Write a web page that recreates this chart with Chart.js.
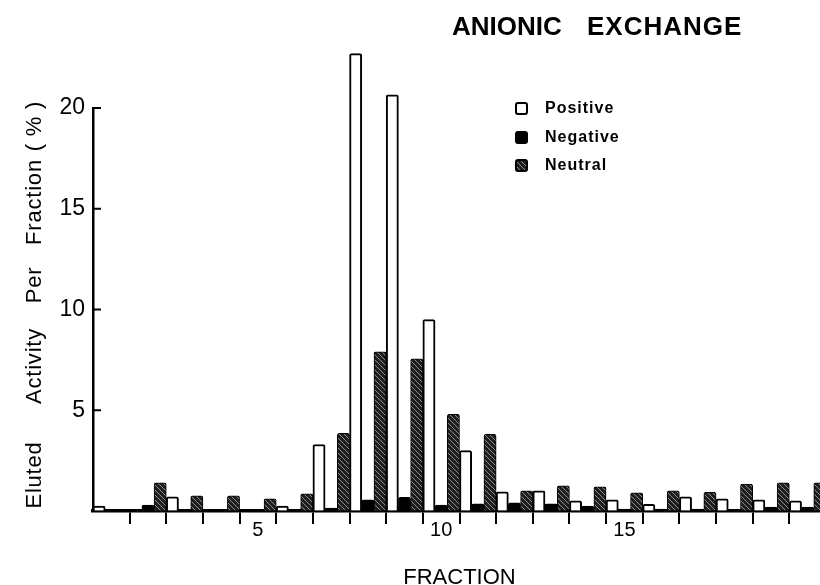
<!DOCTYPE html>
<html lang="en">
<head>
  <meta charset="UTF-8" />
  <title>Anionic Exchange</title>
  <script src="https://cdn.jsdelivr.net/npm/chart.js"></script>
<style>
  html, body {
    margin: 0;
    padding: 0;
    background: #fff;
    overflow: hidden;
  }
  #wrap {
    width: 826px;
    height: 585px;
  }
</style>
</head>
<body>
  <div id="wrap">
    <canvas id="exchangeChart" width="826" height="585"></canvas>
  </div>

<script>
  // Values (% of eluted activity per fraction)
  const fractions = [1, 2, 3, 4, 5, 6, 7, 8, 9, 10, 11, 12, 13, 14, 15, 16, 17, 18, 19, 20];
  const positive = [0.25, 0, 0.7, 0, 0, 0.25, 3.3, 22.7, 20.65, 9.5, 3.0, 0.95, 1.0, 0.5, 0.55, 0.33, 0.7, 0.6, 0.55, 0.5];
  const negative = [0, 0.3, 0, 0, 0, 0, 0.15, 0.55, 0.68, 0.3, 0.35, 0.4, 0.35, 0.25, 0.1, 0.1, 0.1, 0.05, 0.2, 0.2];
  const neutral = [0, 1.4, 0.75, 0.75, 0.6, 0.85, 3.85, 7.9, 7.55, 4.8, 3.8, 1.0, 1.25, 1.2, 0.9, 1.0, 0.93, 1.33, 1.4, 1.4];
  const xLabelled = [5, 10, 15];
  const yTicks = [5, 10, 15, 20];
  const yTitleWords = ["Eluted", "Activity", "Per", "Fraction", "( % )"];

  const FONT = "'Liberation Sans', Arial, sans-serif";

  // diagonal hatch for the neutral bars
  function makeHatch() {
    const c = document.createElement("canvas");
    c.width = 5;
    c.height = 5;
    const g = c.getContext("2d");
    g.fillStyle = "#1e1e1e";
    g.fillRect(0, 0, 5, 5);
    g.strokeStyle = "rgba(255,255,255,0.55)";
    g.lineWidth = 0.9;
    g.beginPath();
    g.moveTo(-1, -1);
    g.lineTo(6, 6);
    g.stroke();
    return g.createPattern(c, "repeat");
  }
  const hatch = makeHatch();

  const decor = {
    id: "decor",
    afterDraw(chart) {
      const ctx = chart.ctx;
      const y = chart.scales.y;
      const left = chart.chartArea.left;
      ctx.save();

      // inner tick marks on the y axis
      ctx.strokeStyle = "#000";
      ctx.lineWidth = 2;
      yTicks.forEach(v => {
        const py = y.getPixelForValue(v);
        ctx.beginPath();
        ctx.moveTo(left, py);
        ctx.lineTo(left + 8, py);
        ctx.stroke();
      });

      // title
      ctx.fillStyle = "#000";
      ctx.textBaseline = "middle";
      ctx.font = "bold 26px " + FONT;
      ctx.letterSpacing = "0px";
      ctx.fillText("ANIONIC", 452, 28);
      ctx.letterSpacing = "1px";
      ctx.fillText("EXCHANGE", 587, 28);

      // legend
      const items = [
        { text: "Positive", fill: "#fff", y: 108 },
        { text: "Negative", fill: "#000", y: 137 },
        { text: "Neutral", fill: hatch, y: 165 }
      ];
      ctx.font = "bold 16px " + FONT;
      ctx.letterSpacing = "1px";
      items.forEach(it => {
        ctx.beginPath();
        ctx.roundRect(516, it.y - 5, 11, 11, 2);
        ctx.fillStyle = it.fill;
        ctx.fill();
        ctx.lineWidth = 2;
        ctx.strokeStyle = "#000";
        ctx.stroke();
        ctx.fillStyle = "#000";
        ctx.fillText(it.text, 545, it.y + 1);
      });

      // y axis title, word by word from the bottom up
      const wordCentres = [475, 366, 285, 202, 126];
      ctx.font = "22px " + FONT;
      ctx.letterSpacing = "0.8px";
      ctx.textAlign = "center";
      yTitleWords.forEach((w, i) => {
        ctx.save();
        ctx.translate(35, wordCentres[i]);
        ctx.rotate(-Math.PI / 2);
        ctx.fillText(w, 0, 0);
        ctx.restore();
      });
      ctx.restore();
    }
  };

  function barSet(label, data, fill, border, bw) {
    return {
      label: label,
      data: data,
      backgroundColor: fill,
      borderColor: border,
      borderWidth: bw,
      borderSkipped: "bottom",
      borderRadius: { topLeft: 2, topRight: 2 },
      categoryPercentage: 1.0,
      barPercentage: 1.0,
      clip: false
    };
  }

  new Chart(document.getElementById("exchangeChart"), {
    type: "bar",
    data: {
      labels: fractions,
      datasets: [
        barSet("Positive", positive, "#fff", "#000", 2),
        barSet("Negative", negative, "#000", "#000", 1),
        barSet("Neutral", neutral, hatch, "#000", 1)
      ]
    },
    options: {
      responsive: false,
      animation: false,
      devicePixelRatio: 1,
      layout: { padding: { top: 108, left: 0, right: 0, bottom: 0 } },
      plugins: {
        legend: { display: false },
        tooltip: { enabled: false }
      },
      scales: {
        x: {
          offset: true,
          grid: {
            offset: true,
            drawOnChartArea: false,
            drawTicks: true,
            tickLength: 13,
            lineWidth: 2,
            color: c => c.index === 0 ? "rgba(0,0,0,0)" : "#000"
          },
          border: { display: true, width: 3.5, color: "#000" },
          ticks: {
            autoSkip: false,
            maxRotation: 0,
            padding: -6,
            color: "#000",
            font: { family: FONT, size: 20 },
            callback: (v, i) => xLabelled.includes(fractions[i]) ? String(fractions[i]) : ""
          },
          title: {
            display: true,
            text: "FRACTION",
            color: "#000",
            font: { family: FONT, size: 22, lineHeight: 1 },
            padding: { top: 0, bottom: -4 }
          },
          afterFit: s => { s.height = 74; }
        },
        y: {
          min: 0,
          max: 20,
          ticks: {
            stepSize: 5,
            padding: 8,
            color: "#000",
            font: { family: FONT, size: 23 },
            callback: v => v === 0 ? "" : v
          },
          grid: { drawOnChartArea: false, drawTicks: false },
          border: { display: true, width: 2.5, color: "#000" },
          afterFit: s => { s.width = 93; }
        }
      }
    },
    plugins: [decor]
  });
</script>

</body>
</html>
